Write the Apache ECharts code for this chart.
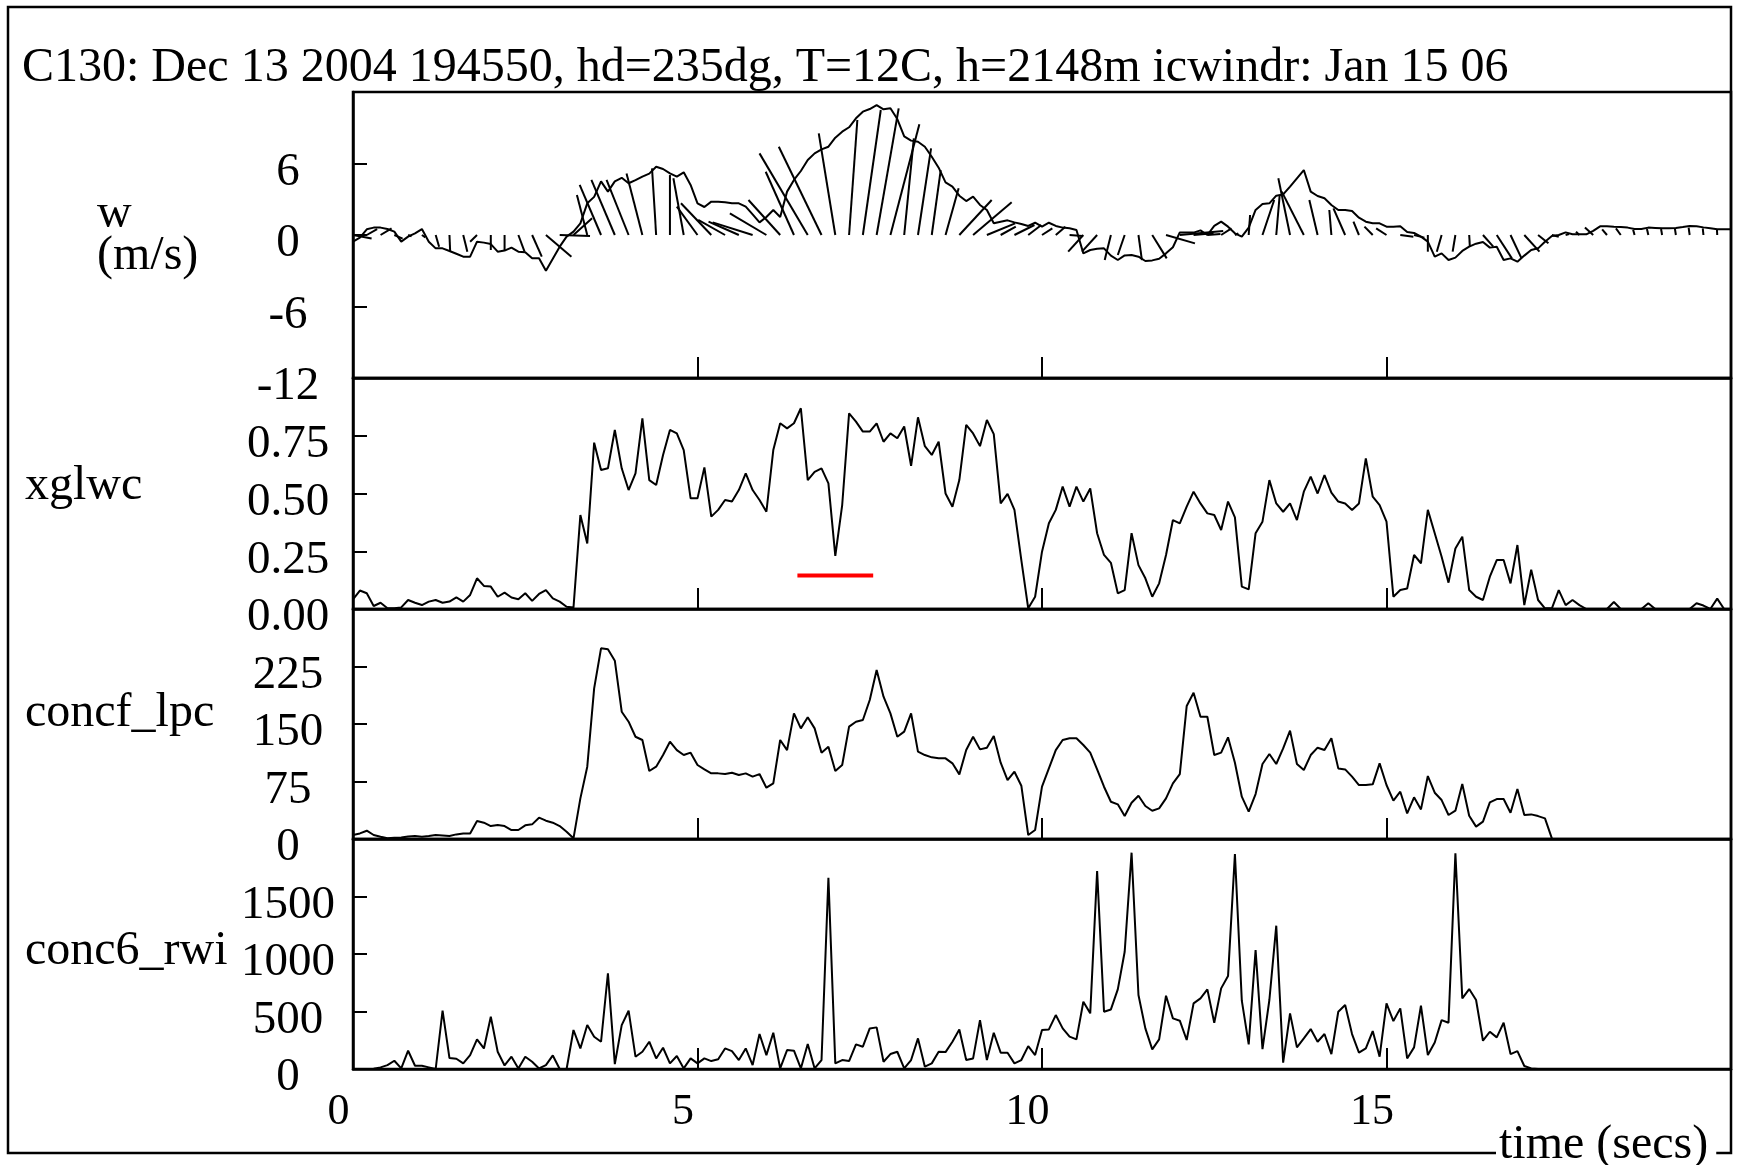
<!DOCTYPE html>
<html>
<head>
<meta charset="utf-8">
<title>C130 icwindr</title>
<script src="https://cdn.jsdelivr.net/npm/echarts@6/dist/echarts.min.js"></script>
<style>
  html, body { margin: 0; padding: 0; background: #fff; }
  #chart { width: 1740px; height: 1165px; }
</style>
</head>
<body>
<div id="chart"></div>
<script>
// sample step of the traces and of the wind sticks (secs)
const dt = 0.1;
const stickDt = 0.2;

// tick labels
const wTicks = [-12, -6, 0, 6];
const lwcTicks = [0, 0.25, 0.5, 0.75];
const lpcTicks = [0, 75, 150, 225];
const rwiTicks = [0, 500, 1000, 1500];
const timeTicks = [0, 5, 10, 15];

// w (m/s), every 0.1 s
const wVals = [
  -0.56, -0.22, 0.48, 0.62, 0.62, 0.5, 0.28, -0.56, -0.14, 0.14,
  0.5, -0.56, -1.12, -1.12, -1.34, -1.57, -1.82, -1.82, -0.56, -0.64,
  -0.76, -1.4, -1.31, -1.06, -1.4, -1.45, -1.96, -1.96, -3.0, -2.0,
  -0.98, -0.14, 0.28, 0.98, 2.66, 3.2, 4.5, 3.64, 4.5, 4.8,
  4.34, 4.6, 4.9, 5.15, 5.73, 5.54, 5.17, 4.9, 5.26, 4.2,
  2.66, 2.35, 2.8, 2.8, 2.74, 2.66, 2.66, 2.38, 1.73, 1.06,
  1.51, 2.1, 1.51, 3.64, 4.62, 5.37, 6.29, 6.85, 7.19, 7.41,
  8.17, 8.67, 9.04, 9.79, 10.35, 10.57, 10.9, 10.55, 10.63, 9.73,
  8.28, 7.92, 7.83, 7.41, 6.57, 5.65, 4.42, 4.06, 3.3, 2.85,
  3.22, 2.52, 2.1, 0.98, 1.12, 1.23, 1.06, 0.92, 0.76, 1.03,
  0.7, 1.03, 0.76, 0.62, 0.56, 0.42, -1.54, -1.26, -1.15, -1.12,
  -1.73, -2.1, -1.71, -1.68, -1.82, -2.18, -2.13, -1.99, -1.54, -1.03,
  0.22, 0.22, 0.2, 0.39, 0, 0.76, 1.12, 0.7, 0.14, -0.14,
  0.62, 2.1, 2.6, 2.66, 3.3, 3.41, 4.06, 4.76, 5.45, 3.64,
  3.27, 3.08, 2.52, 2.1, 2.1, 2.01, 1.45, 1.12, 0.98, 0.98,
  0.7, 0.7, 0.73, 0.25, 0.17, -0.14, -0.56, -1.82, -1.54, -2.1,
  -1.9, -1.34, -0.98, -0.73, -0.59, -1.06, -0.98, -2.1, -1.96, -2.24,
  -1.73, -1.26, -1.12, -0.56, -0.08, 0, 0.22, 0.06, 0.06, 0.06,
  0.34, 0.73, 0.73, 0.7, 0.67, 0.62, 0.5, 0.5, 0.62, 0.59,
  0.56, 0.56, 0.59, 0.67, 0.76, 0.73, 0.64, 0.56, 0.48, 0.48,
  0.48
];

// wind sticks, every 0.2 s: horizontal reach (secs) and vertical reach (m/s)
const stickU = [
  0.27, 0.15, 0.16, 0.12, 0.05, 0.05, 0.05, 0.01, 0.06, -0.10,
  0, 0, 0.09, 0.14, 0.37, 0.44, 0.27, -0.15, -0.31, -0.34,
  -0.32, -0.23, -0.06, 0, -0.15, -0.30, -0.44, -0.39, -0.44, -0.58,
  -0.53, -0.46, -0.41, -0.70, -0.62, -0.24, 0.12, 0.26, 0.32, 0.42,
  0.14, 0.19, 0.13, 0.19, 0.47, 0.56, 0.41, 0.22, 0.29, 0.19,
  0.15, 0.14, 0.19, -0.22, -0.22, -0.09, -0.10, 0.05, 0.21, 0.42,
  0.63, 0.29, 0.19, 0.15, 0.05, 0.02, 0.17, 0.05, -0.17, -0.32,
  -0.12, -0.03, -0.17, -0.08, -0.12, -0.15, 0.19, 0.15, 0, -0.07,
  -0.04, 0.01, 0.15, 0.22, 0.16, 0.22, 0.15, 0.1, 0.05, -0.05,
  -0.12, -0.07, -0.07, -0.02, -0.02, -0.015, -0.015, -0.015, -0.01, -0.005
];
const stickW = [
  -0.3, 0.5, 0.55, -0.3, -0.1, -0.2, -0.98, -1.4, -1.4, -0.56,
  -1.26, -1.26, -1.4, -1.82, -1.82, -0.08, 1.4, 3.36, 4.2, 4.62,
  4.62, 5.17, 5.59, 5.03, 4.76, 2.38, 2.66, 1.26, 1.12, 1.06,
  1.82, 2.94, 5.31, 6.85, 7.41, 8.53, 9.65, 10.49, 10.63, 9.29,
  8.11, 7.27, 5.45, 3.92, 2.94, 2.74, 0.98, 0.7, 0.84, 0.84,
  0.56, 0.7, -0.08, -1.4, -1.4, -2.1, -1.68, -2.1, -1.96, -0.7,
  0.34, 0.14, 0.08, 0.56, 0.14, 1.68, 2.94, 3.36, 4.76, 3.64,
  2.94, 2.1, 2.24, 1.12, 0.7, 0.56, -0.14, -0.22, -1.4, -1.4,
  -1.4, -0.98, -0.98, -1.96, -1.96, -1.4, -0.7, -0.14, 0.08, 0.28,
  0.62, 0.48, 0.56, 0.45, 0.5, 0.5, 0.56, 0.62, 0.56, 0.5
];

// xglwc, every 0.1 s
const lwcVals = [
  0.042, 0.08, 0.068, 0.013, 0.027, 0.003, 0.003, 0.007, 0.039, 0.027,
  0.017, 0.032, 0.039, 0.027, 0.032, 0.05, 0.032, 0.061, 0.133, 0.1,
  0.097, 0.053, 0.071, 0.05, 0.042, 0.068, 0.035, 0.065, 0.082, 0.046,
  0.032, 0.01, 0.006, 0.407, 0.284, 0.72, 0.602, 0.609, 0.775, 0.609,
  0.515, 0.587, 0.825, 0.558, 0.537, 0.667, 0.775, 0.76, 0.688, 0.479,
  0.479, 0.613, 0.4, 0.429, 0.472, 0.465, 0.515, 0.587, 0.515, 0.472,
  0.421, 0.688, 0.804, 0.782, 0.804, 0.869, 0.558, 0.594, 0.609, 0.544,
  0.23, 0.45, 0.847, 0.811, 0.768, 0.768, 0.804, 0.724, 0.76, 0.739,
  0.79, 0.62, 0.83, 0.705, 0.667, 0.724, 0.5, 0.443, 0.558, 0.797,
  0.76, 0.705, 0.818, 0.757, 0.457, 0.498, 0.429, 0.212, 0.003, 0.053,
  0.248, 0.371, 0.429, 0.53, 0.443, 0.53, 0.465, 0.522, 0.328, 0.234,
  0.2, 0.068, 0.082, 0.328, 0.19, 0.133, 0.053, 0.111, 0.234, 0.385,
  0.371, 0.443, 0.508, 0.457, 0.414, 0.407, 0.342, 0.465, 0.397, 0.097,
  0.085, 0.328, 0.378, 0.558, 0.457, 0.421, 0.457, 0.385, 0.508, 0.573,
  0.5, 0.58, 0.504, 0.465, 0.457, 0.429, 0.457, 0.652, 0.486, 0.45,
  0.378, 0.053, 0.082, 0.089, 0.234, 0.198, 0.429, 0.328, 0.226, 0.114,
  0.262, 0.313, 0.082, 0.053, 0.039, 0.14, 0.212, 0.212, 0.111, 0.277,
  0.017, 0.17, 0.039, 0.003, 0.003, 0.082, 0.017, 0.039, 0.017, 0,
  0, 0, 0, 0.03, 0, 0, 0, 0, 0.025, 0,
  0, 0, 0, 0, 0, 0.025, 0.015, 0, 0.045, 0,
  0
];

// red marker segment on the xglwc panel
const redX = [6.45, 7.55];
const redY = [0.145, 0.145];

// concf_lpc, every 0.1 s (ends at 17.4 s)
const lpcVals = [
  5.2, 7.3, 10.8, 5.2, 3.0, 0.9, 1.7, 2.1, 3.4, 3.9,
  3.0, 3.9, 5.2, 4.7, 3.9, 6.0, 7.3, 7.3, 23.5, 21.3,
  16.9, 18.2, 16.9, 11.7, 11.7, 17.8, 19.1, 27.8, 23.9, 21.3,
  16.9, 9.5, 0.9, 53, 94.3, 196.5, 248.7, 247.4, 232.6, 166,
  153, 133.4, 129.1, 88.7, 94.3, 109.5, 126.9, 116, 109.5, 112.6,
  96.5, 90.8, 85.6, 85.6, 84.7, 86.5, 83.4, 85.6, 81.3, 84.7,
  66.9, 72.6, 129.1, 116, 163.9, 144.3, 158.7, 144.3, 112.6, 120.4,
  88.7, 96.5, 146.5, 153, 155.2, 181.3, 220.4, 185.6, 163.9, 133.4,
  140, 163.9, 113.9, 109.5, 106.5, 105.2, 105.2, 98.7, 84.3, 116,
  133.4, 116.9, 119.1, 134.3, 99.5, 76.9, 87.8, 69.5, 5.2, 11.7,
  68.2, 92.1, 116, 129.1, 131.3, 131.3, 122.6, 112.6, 90.8, 68.2,
  48.6, 45.2, 29.9, 47.3, 56.5, 43, 36.9, 40, 53, 72.6,
  84.7, 173.4, 190.8, 159.5, 159.5, 109.5, 112.6, 132.6, 99.5, 55.2,
  35.6, 58.6, 97.8, 110.8, 97.8, 118.2, 141.3, 97.8, 90, 109.5,
  119.1, 116, 131.3, 92.1, 90.8, 81.3, 70.4, 70.4, 71.3, 98.7,
  70.4, 50, 61.7, 33.4, 54.3, 38.6, 82.1, 60.4, 50.8, 31.3,
  36.9, 71.7, 30.4, 16.1, 22.6, 47.8, 52.1, 52.1, 34.3, 65.2,
  31.3, 32.1, 29.9, 26.9, 0.9
];

// conc6_rwi, every 0.1 s
const rwiVals = [
  0, 0, 0, 3, 14, 34, 72, 5, 159, 28,
  28, 14, 0, 507, 95, 89, 49, 121, 257, 179,
  455, 150, 31, 107, 5, 107, 63, 5, 34, 118,
  0, 0, 339, 179, 382, 281, 237, 832, 43, 382,
  507, 107, 150, 237, 92, 185, 49, 113, 5, 92,
  49, 92, 69, 84, 179, 156, 78, 179, 34, 304,
  121, 315, 5, 165, 159, 5, 217, 5, 78, 1663,
  49, 78, 69, 214, 194, 353, 362, 63, 130, 150,
  5, 78, 266, 20, 49, 150, 147, 237, 344, 78,
  92, 425, 78, 315, 142, 142, 49, 78, 199, 121,
  339, 344, 469, 353, 281, 257, 585, 484, 1721, 498,
  518, 692, 1020, 1881, 643, 353, 171, 257, 637, 440,
  420, 252, 571, 614, 692, 402, 701, 808, 1869, 594,
  214, 1034, 173, 600, 1246, 55, 484, 188, 266, 347,
  237, 304, 130, 498, 556, 304, 142, 179, 330, 107,
  571, 417, 527, 92, 188, 550, 121, 231, 425, 402,
  1875, 614, 695, 600, 246, 324, 275, 402, 130, 156,
  26, 5, 0, 0, 0, 0, 0, 0, 0, 0,
  0, 0, 0, 0, 0, 0, 0, 0, 0, 0,
  0, 0, 0, 0, 0, 0, 0, 0, 0, 0,
  0
];

const FONT = 'Liberation Serif';
const toXY = vals => vals.map((v, i) => [+(i * dt).toFixed(2), v]);

const chart = echarts.init(document.getElementById('chart'));

// 4 stacked panels sharing the time axis
const gridBoxes = [
  { top: 92, height: 286 },
  { top: 378, height: 231 },
  { top: 609, height: 230 },
  { top: 839, height: 230 }
];
// nameVA / nameLH place the panel names slightly above the panel middle
const yDefs = [
  { min: -12, max: 12, interval: 6, ticks: wTicks, fmt: v => String(v), name: 'w\n(m/s)', gap: 256, nameVA: 'middle', nameLH: 42 },
  { min: 0, max: 1, interval: 0.25, ticks: lwcTicks, fmt: v => v.toFixed(2), name: 'xglwc', gap: 328, nameVA: 'bottom', nameLH: 14 },
  { min: 0, max: 300, interval: 75, ticks: lpcTicks, fmt: v => String(v), name: 'concf_lpc', gap: 328, nameVA: 'bottom', nameLH: 22 },
  { min: 0, max: 2000, interval: 500, ticks: rwiTicks, fmt: v => String(v), name: 'conc6_rwi', gap: 328, nameVA: 'bottom', nameLH: 6 }
];

const lineStyle = { color: '#000', width: 2 };

chart.setOption({
  animation: false,
  backgroundColor: '#fff',
  title: [
    {
      text: 'C130: Dec 13 2004 194550, hd=235dg, T=12C, h=2148m icwindr: Jan 15 06',
      left: 22, top: 44, padding: 0, z: 10,
      textStyle: { fontFamily: FONT, fontSize: 48, fontWeight: 'normal', color: '#000', lineHeight: 48 }
    },
    {
      text: 'time (secs)',
      left: 1496, top: 1121, padding: [0, 8, 0, 3], z: 10,
      backgroundColor: '#fff',
      textStyle: { fontFamily: FONT, fontSize: 48, fontWeight: 'normal', color: '#000', lineHeight: 48 }
    }
  ],
  graphic: [
    {
      type: 'rect', z: 1,
      shape: { x: 8, y: 7, width: 1723, height: 1146 },
      style: { fill: 'none', stroke: '#000', lineWidth: 2.5 }
    }
  ],
  grid: gridBoxes.map(g => ({
    left: 353, width: 1378, top: g.top, height: g.height,
    show: true, borderColor: '#000', borderWidth: 2.5, backgroundColor: 'transparent'
  })),
  xAxis: gridBoxes.map((g, i) => ({
    gridIndex: i, type: 'value', min: 0, max: 20, interval: 5,
    axisLine: { show: true, onZero: false, lineStyle: { color: '#000', width: 2.5 } },
    axisTick: { show: true, inside: true, length: 21, lineStyle: { color: '#000', width: 2 } },
    splitLine: { show: false },
    axisLabel: {
      show: i === 3,
      fontFamily: FONT, fontSize: 44, color: '#000',
      margin: 43, verticalAlign: 'middle', padding: [0, 29, 0, 0],
      formatter: v => (timeTicks.includes(v) ? String(v) : '')
    }
  })),
  yAxis: yDefs.map((d, i) => ({
    gridIndex: i, type: 'value', min: d.min, max: d.max, interval: d.interval,
    axisLine: { show: true, lineStyle: { color: '#000', width: 2.5 } },
    axisTick: { show: true, inside: true, length: 14, lineStyle: { color: '#000', width: 2 } },
    splitLine: { show: false },
    axisLabel: {
      fontFamily: FONT, fontSize: 47, color: '#000',
      // labels sit a little below their ticks
      align: 'center', verticalAlign: 'top', lineHeight: 18, margin: 65,
      formatter: v => (d.ticks.some(t => Math.abs(t - v) < 1e-9) ? d.fmt(v) : '')
    },
    name: d.name,
    nameLocation: 'middle',
    nameRotate: 0,
    nameGap: d.gap,
    nameTextStyle: {
      fontFamily: FONT, fontSize: 48, color: '#000',
      align: 'left', verticalAlign: d.nameVA, lineHeight: d.nameLH
    }
  })),
  series: [
    {
      type: 'custom', xAxisIndex: 0, yAxisIndex: 0,
      data: stickU.map((u, i) => [+(i * stickDt).toFixed(2), u, stickW[i]]),
      renderItem: function (params, api) {
        const t = api.value(0);
        const p0 = api.coord([t, 0]);
        const p1 = api.coord([t + api.value(1), api.value(2)]);
        return {
          type: 'line',
          shape: { x1: p0[0], y1: p0[1], x2: p1[0], y2: p1[1] },
          style: { stroke: '#000', lineWidth: 2 }
        };
      }
    },
    {
      type: 'line', xAxisIndex: 0, yAxisIndex: 0,
      data: toXY(wVals), showSymbol: false, lineStyle: lineStyle
    },
    {
      type: 'line', xAxisIndex: 1, yAxisIndex: 1,
      data: toXY(lwcVals), showSymbol: false, lineStyle: lineStyle
    },
    {
      type: 'line', xAxisIndex: 1, yAxisIndex: 1,
      data: redX.map((x, i) => [x, redY[i]]), showSymbol: false,
      lineStyle: { color: '#ff0000', width: 4 }
    },
    {
      type: 'line', xAxisIndex: 2, yAxisIndex: 2,
      data: toXY(lpcVals), showSymbol: false, lineStyle: lineStyle
    },
    {
      type: 'line', xAxisIndex: 3, yAxisIndex: 3,
      data: toXY(rwiVals), showSymbol: false, lineStyle: lineStyle
    }
  ]
});

window.addEventListener('resize', () => chart.resize());
</script>
</body>
</html>
